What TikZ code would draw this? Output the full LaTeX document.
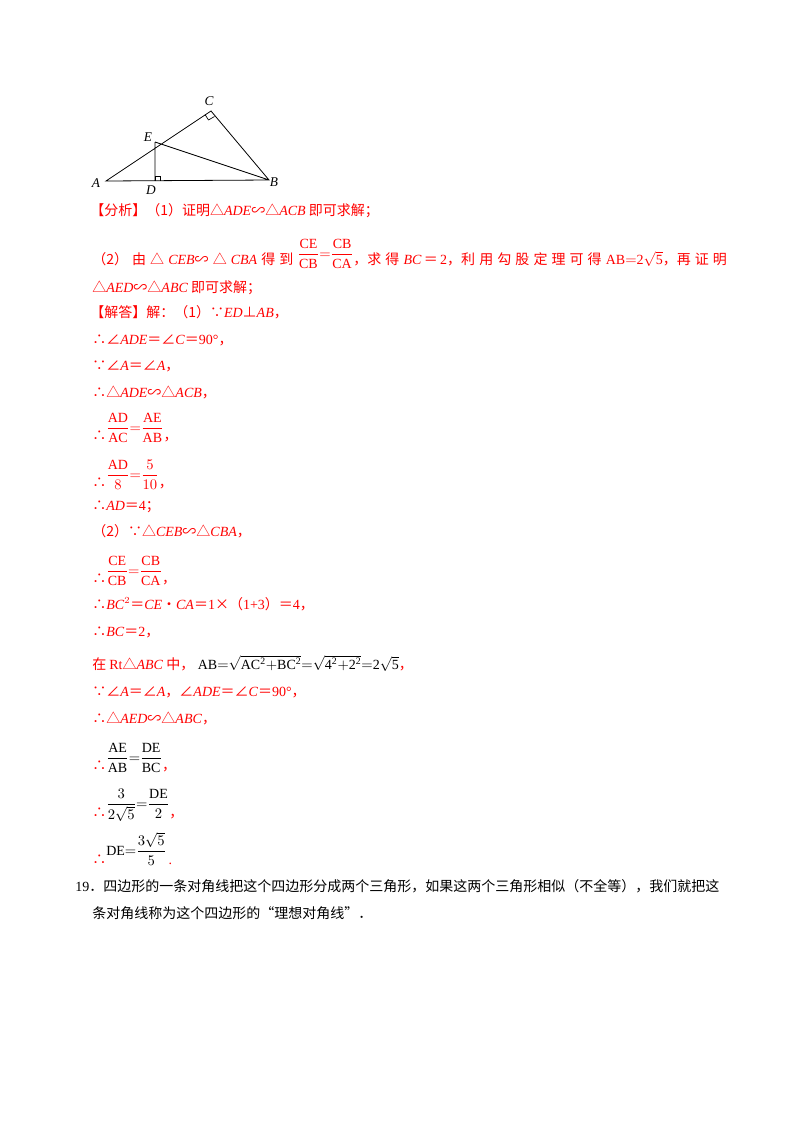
\documentclass[tikz,border=0pt]{standalone}
\usepackage{fontspec}
\setmainfont{Liberation Serif}
\newfontfamily\cjk{Noto Sans CJK SC}
\newcommand\zh[1]{{\cjk #1}}
\begin{document}
\begin{tikzpicture}[x=0.75pt,y=-0.75pt,
 t/.style={anchor=base west,inner sep=0,text=red,font=\fontsize{10.5pt}{12pt}\selectfont},
 tb/.style={t,text=black},
 lab/.style={inner sep=0,font=\fontsize{10pt}{12pt}\selectfont\itshape},
 fig/.style={line width=0.6pt}]
\useasboundingbox (0,0) rectangle (800,1132);
\fill[white] (0,0) rectangle (800,1132);
% figure
\coordinate (A) at (106,181); \coordinate (B) at (269,180);
\coordinate (C) at (211,111); \coordinate (E) at (155,142); \coordinate (D) at (155,181);
\draw[fig] (A)--(B)--(C)--cycle (E)--(D) (E)--(B);
\draw[fig,line width=0.5pt] (155,181)--(155,176)--(160,176)--(160,181);
\draw[fig,line width=0.5pt] (205,114.5)--(208.5,120)--(214.5,116.5);
\node[lab] (la) at (96,183) {A}; \node[lab] (lb) at (274,182) {B};
\node[lab] (lc) at (209,101) {C}; \node[lab] (ld) at (151,190) {D};
\node[lab] (le) at (148,137) {E};
% text
\node[t] (l1) at (90,215) {\zh{【分析】（1）证明△}\textit{ADE}\zh{∽△}\textit{ACB}\zh{ 即可求解；}};
\node[t] (l2) at (92,264) {\makebox[476pt][s]{\zh{（2） 由 △ }\textit{CEB}\zh{∽ △ }\textit{CBA}\zh{ 得 到 }\raisebox{0.9ex}{$\displaystyle\frac{\mathrm{CE}}{\mathrm{CB}}{=}\frac{\mathrm{CB}}{\mathrm{CA}}$}\zh{，求 得 }\textit{BC}\,\zh{＝}\,2\zh{，利 用 勾 股 定 理 可 得 }$\mathrm{AB{=}2\sqrt{5}}$\zh{，再 证 明}}};
\node[t] (l3) at (92,292) {\zh{△}\textit{AED}\zh{∽△}\textit{ABC}\zh{ 即可求解；}};
\node[t] (l4) at (90,317) {\zh{【解答】解：（1）∵}\textit{ED}\zh{⊥}\textit{AB}\zh{，}};
\node[t] (l5) at (92,344) {\zh{∴∠}\textit{ADE}\zh{＝∠}\textit{C}\zh{＝}90°\zh{，}};
\node[t] (l6) at (92,370) {\zh{∵∠}\textit{A}\zh{＝∠}\textit{A}\zh{，}};
\node[t] (l7) at (92,397) {\zh{∴△}\textit{ADE}\zh{∽△}\textit{ACB}\zh{，}};
\node[t] (l8) at (92,440) {\zh{∴}\raisebox{1.2ex}{$\displaystyle\frac{\mathrm{AD}}{\mathrm{AC}}{=}\frac{\mathrm{AE}}{\mathrm{AB}}$}\zh{，}};
\node[t] (l9) at (92,487) {\zh{∴}\raisebox{1.2ex}{$\displaystyle\frac{\mathrm{AD}}{8}{=}\frac{5}{10}$}\zh{，}};
\node[t] (l10) at (92,510) {\zh{∴}\textit{AD}\zh{＝}4\zh{；}};
\node[t] (l11) at (92,536) {\zh{（2）∵△}\textit{CEB}\zh{∽△}\textit{CBA}\zh{，}};
\node[t] (l12) at (92,583) {\zh{∴}\raisebox{1.2ex}{$\displaystyle\frac{\mathrm{CE}}{\mathrm{CB}}{=}\frac{\mathrm{CB}}{\mathrm{CA}}$}\zh{，}};
\node[t] (l13) at (92,609) {\zh{∴}\textit{BC}$^2$\zh{＝}\textit{CE}\zh{•}\textit{CA}\zh{＝}1\zh{×（}1+3\zh{）＝}4\zh{，}};
\node[t] (l14) at (92,636) {\zh{∴}\textit{BC}\zh{＝}2\zh{，}};
\node[t] (l15) at (92,669) {\zh{在 }Rt\zh{△}\textit{ABC}\zh{ 中，}\ \textcolor{black}{$\mathrm{AB{=}\sqrt{AC^2{+}BC^2}{=}\sqrt{4^2{+}2^2}{=}2\sqrt{5}}$}\zh{，}};
\node[t] (l16) at (92,696) {\zh{∵∠}\textit{A}\zh{＝∠}\textit{A}\zh{，∠}\textit{ADE}\zh{＝∠}\textit{C}\zh{＝}90°\zh{，}};
\node[t] (l17) at (92,723) {\zh{∴△}\textit{AED}\zh{∽△}\textit{ABC}\zh{，}};
\node[t] (l18) at (92,770) {\zh{∴}\raisebox{1.2ex}{\textcolor{black}{$\displaystyle\frac{\mathrm{AE}}{\mathrm{AB}}{=}\frac{\mathrm{DE}}{\mathrm{BC}}$}}\zh{，}};
\node[t] (l19) at (92,817) {\zh{∴}\raisebox{1.4ex}{\textcolor{black}{$\displaystyle\frac{3}{2\sqrt5}{=}\frac{\mathrm{DE}}{2}$}}\zh{，}};
\node[t] (l20) at (92,864) {\zh{∴}\raisebox{1.4ex}{\textcolor{black}{$\displaystyle\mathrm{DE}{=}\frac{3\sqrt5}{5}$}}\,.};
\node[tb] (l21) at (75,891) {19\zh{．四边形的一条对角线把这个四边形分成两个三角形，如果这两个三角形相似（不全等），我们就把这}};
\node[tb] (l22) at (92,918) {\zh{条对角线称为这个四边形的“理想对角线”．}};
\end{tikzpicture}
\end{document}
